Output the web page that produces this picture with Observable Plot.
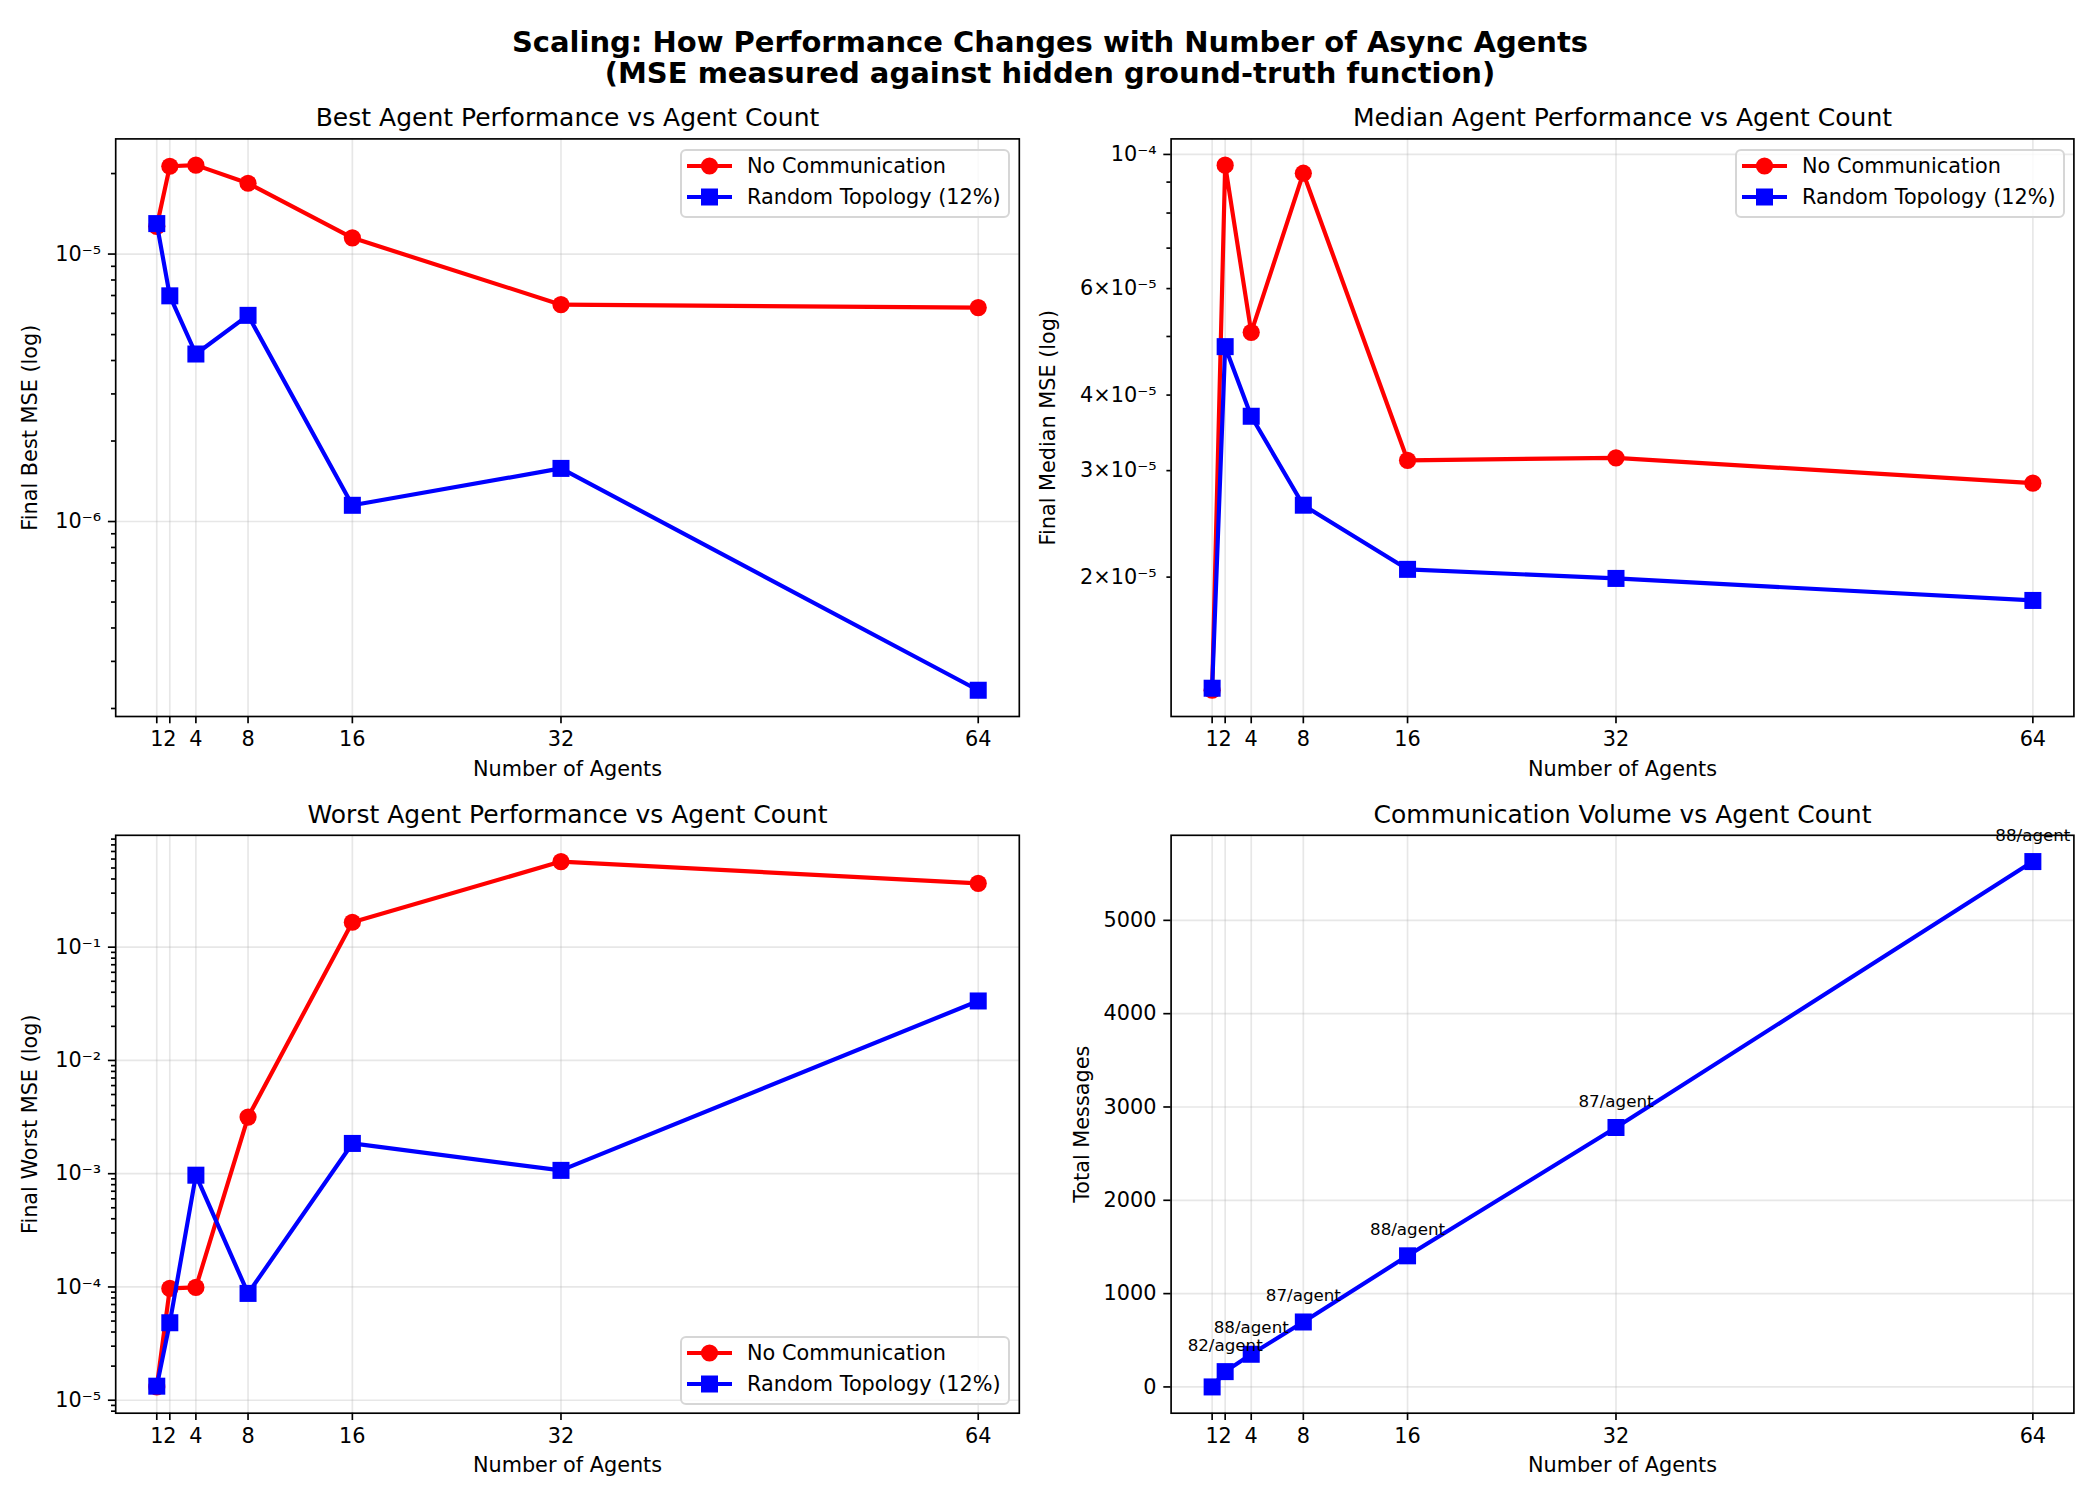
<!DOCTYPE html>
<html><head><meta charset="utf-8">
<script src="https://cdn.jsdelivr.net/npm/d3@7"></script>
<script src="https://cdn.jsdelivr.net/npm/@observablehq/plot@0.6"></script>
<style>
body{margin:0;background:#fff;}
#root{position:relative;width:2100px;height:1500px;background:#fff;font-family:"DejaVu Sans";color:#000;}
.suptitle{position:absolute;left:0;width:2100px;top:27px;text-align:center;font-weight:bold;font-size:29px;line-height:31px;}
.panel{position:absolute;}
.legend{position:absolute;}
</style></head><body><div id="root"><div class="suptitle">Scaling: How Performance Changes with Number of Async Agents<br>(MSE measured against hidden ground-truth function)</div></div>
<script>
// ---------- data ----------
const agents = [1, 2, 4, 8, 16, 32, 64];
const bestNoComm   = [1.27e-5, 2.13e-5, 2.15e-5, 1.84e-5, 1.15e-5, 6.47e-6, 6.31e-6];
const bestRandom   = [1.30e-5, 6.98e-6, 4.23e-6, 5.90e-6, 1.15e-6, 1.58e-6, 2.34e-7];
const medianNoComm = [1.30e-5, 9.60e-5, 5.08e-5, 9.31e-5, 3.12e-5, 3.15e-5, 2.86e-5];
const medianRandom = [1.31e-5, 4.81e-5, 3.69e-5, 2.63e-5, 2.06e-5, 1.99e-5, 1.83e-5];
const worstNoComm  = [1.31e-5, 9.7e-5, 9.9e-5, 3.16e-3, 0.166, 0.57, 0.366];
const worstRandom  = [1.33e-5, 4.83e-5, 9.7e-4, 8.77e-5, 1.85e-3, 1.07e-3, 0.0335];
const totalMessages = [0, 164, 350, 696, 1405, 2780, 5630];
const perAgentLabels = ["", "82/agent", "88/agent", "87/agent", "88/agent", "87/agent", "88/agent"];
const seriesNames = ["No Communication", "Random Topology (12%)"];
const xTicks = [1, 2, 4, 8, 16, 32, 64];
const bestTicks = [1e-6, 1e-5];
const medianTicks = [1e-4];
const medianLabeledMinor = [2e-5, 3e-5, 4e-5, 6e-5];
const worstTicks = [1e-5, 1e-4, 1e-3, 1e-2, 1e-1];
const commTicks = [0, 1000, 2000, 3000, 4000, 5000];
const titles = ["Best Agent Performance vs Agent Count", "Median Agent Performance vs Agent Count",
                "Worst Agent Performance vs Agent Count", "Communication Volume vs Agent Count"];
const yLabels = ["Final Best MSE (log)", "Final Median MSE (log)", "Final Worst MSE (log)", "Total Messages"];
const xLabel = "Number of Agents";

// ---------- helpers ----------
const FS = 20.8, LW = 4.17, SW = 1.67;
const RED = "#ff0000", BLUE = "#0000ff";
function logDomain(...s){const v=s.flat();const lo=Math.log10(d3.min(v)),hi=Math.log10(d3.max(v));const m=(hi-lo)*0.05;return [10**(lo-m),10**(hi+m)];}
function linDomain(v){const lo=d3.min(v),hi=d3.max(v),m=(hi-lo)*0.05;return [lo-m,hi+m];}
const xDomain = linDomain(agents);
const supMap = {"-":"\u207B","0":"\u2070","1":"\u00B9","2":"\u00B2","3":"\u00B3","4":"\u2074","5":"\u2075","6":"\u2076","7":"\u2077","8":"\u2078","9":"\u2079"};
function pow10(e){return "10"+String(e).split("").map(c=>supMap[c]).join("");}
function fmtLog(v){const e=Math.floor(Math.log10(v)+1e-9);const m=Math.round(v/10**e);return m===1?pow10(e):m+"\u00D7"+pow10(e);}
function minorTicks(domain, exclude){const out=[];for(let n=-9;n<=2;n++)for(let k=2;k<=9;k++){const v=k*10**n;if(v>=domain[0]&&v<=domain[1]&&!exclude.some(t=>Math.abs(t-v)/v<1e-6))out.push(v);}return out;}
const gridStyle = {stroke:"#b0b0b0", strokeOpacity:0.3, strokeWidth:SW};

function seriesMarks(ysA, ysB){
  const m = [];
  if (ysA) {
    const A = agents.map((x,i)=>({x, y: ysA[i]}));
    m.push(Plot.line(A,{x:"x",y:"y",stroke:RED,strokeWidth:LW}));
    m.push(Plot.dot(A,{x:"x",y:"y",r:8.6,fill:RED,symbol:"circle"}));
  }
  const B = agents.map((x,i)=>({x, y: ysB[i]}));
  m.push(Plot.line(B,{x:"x",y:"y",stroke:BLUE,strokeWidth:LW}));
  m.push(Plot.dot(B,{x:"x",y:"y",r:9.6,fill:BLUE,symbol:"square"}));
  return m;
}

function makePanel({left, top, width, height, mL, mR, mT, mB, y, yMajor, yMajorFmt, yLabeledMinor = [], yMinor = [], grid, series, title, ylabel, ylabelDx, extra = []}){
  const marks = [
    Plot.gridX(xTicks, gridStyle),
    Plot.gridY(grid, gridStyle),
    ...series,
    ...extra,
    Plot.frame({stroke:"#000", strokeWidth:SW}),
    Plot.axisX({ticks:xTicks, tickSize:7.3, tickPadding:7.3, strokeWidth:SW, fontSize:FS, label:null, tickFormat:d=>String(d)}),
    Plot.axisY({ticks:yMajor, tickSize:7.3, tickPadding:7.3, strokeWidth:SW, fontSize:FS, label:null, tickFormat:yMajorFmt}),
  ];
  if (yLabeledMinor.length) marks.push(Plot.axisY({ticks:yLabeledMinor, tickSize:4.2, tickPadding:10.4, strokeWidth:SW, fontSize:FS, label:null, tickFormat:yMajorFmt}));
  if (yMinor.length) marks.push(Plot.axisY({ticks:yMinor, tickSize:4.2, tickPadding:0, strokeWidth:SW, fontSize:FS, label:null, tickFormat:()=>""}));
  marks.push(Plot.text([title],{text:d=>d, frameAnchor:"top", textAnchor:"middle", dy:-12.5, lineAnchor:"bottom", fontSize:25}));
  marks.push(Plot.text([xLabel],{text:d=>d, frameAnchor:"bottom", textAnchor:"middle", dy:59, lineAnchor:"bottom", fontSize:FS}));
  marks.push(Plot.text([ylabel],{text:d=>d, frameAnchor:"left", textAnchor:"middle", dx:ylabelDx, rotate:-90, lineAnchor:"middle", fontSize:FS}));
  const svg = Plot.plot({
    width, height, marginLeft:mL, marginRight:mR, marginTop:mT, marginBottom:mB,
    style:{fontFamily:"DejaVu Sans", fontSize:FS+"px", color:"#000", background:"transparent", overflow:"visible"},
    x:{type:"linear", domain:xDomain},
    y,
    marks
  });
  const div = document.createElement("div");
  div.className = "panel";
  div.style.left = left+"px"; div.style.top = top+"px"; div.style.width = width+"px"; div.style.height = height+"px";
  div.appendChild(svg);
  document.getElementById("root").appendChild(div);
}

function makeLegend(left, top){
  const w = 328, h = 67;
  const rows = [{name:seriesNames[0], color:RED, sym:"circle", cy:17},{name:seriesNames[1], color:BLUE, sym:"square", cy:48}];
  let s = `<svg width="${w+4}" height="${h+4}" xmlns="http://www.w3.org/2000/svg" style="overflow:visible">`;
  s += `<rect x="1" y="1" width="${w}" height="${h}" rx="5" fill="rgba(255,255,255,0.8)" stroke="#d6d6d6" stroke-width="2"/>`;
  for (const r of rows){
    s += `<line x1="7" x2="52" y1="${r.cy}" y2="${r.cy}" stroke="${r.color}" stroke-width="${LW}"/>`;
    if (r.sym==="circle") s += `<circle cx="29.5" cy="${r.cy}" r="8.6" fill="${r.color}"/>`;
    else s += `<rect x="${29.5-8.5}" y="${r.cy-8.5}" width="17" height="17" fill="${r.color}"/>`;
    s += `<text x="67" y="${r.cy+7}" font-family="DejaVu Sans" font-size="${FS}" fill="#000">${r.name}</text>`;
  }
  s += `</svg>`;
  const div = document.createElement("div");
  div.className = "legend";
  div.style.left = left+"px"; div.style.top = top+"px";
  div.innerHTML = s;
  document.getElementById("root").appendChild(div);
}

// ---------- panels ----------
const bestDom = logDomain(bestNoComm, bestRandom);
makePanel({left:0, top:90, width:1050, height:700, mL:115.2, mR:31.2, mT:48.4, mB:74,
  y:{type:"log", domain:bestDom}, yMajor:bestTicks, yMajorFmt:fmtLog, yMinor:minorTicks(bestDom, []),
  grid:bestTicks, series:seriesMarks(bestNoComm, bestRandom), title:titles[0], ylabel:yLabels[0], ylabelDx:-85});

const medDom = logDomain(medianNoComm, medianRandom);
makePanel({left:1030, top:90, width:1070, height:700, mL:140.6, mR:26.6, mT:48.4, mB:74,
  y:{type:"log", domain:medDom}, yMajor:medianTicks, yMajorFmt:fmtLog, yLabeledMinor:medianLabeledMinor,
  yMinor:minorTicks(medDom, medianLabeledMinor),
  grid:medianTicks, series:seriesMarks(medianNoComm, medianRandom), title:titles[1], ylabel:yLabels[1], ylabelDx:-123});

const worstDom = logDomain(worstNoComm, worstRandom);
makePanel({left:0, top:790, width:1050, height:710, mL:115.2, mR:31.2, mT:44.8, mB:87.3,
  y:{type:"log", domain:worstDom}, yMajor:worstTicks, yMajorFmt:fmtLog, yMinor:minorTicks(worstDom, []),
  grid:worstTicks, series:seriesMarks(worstNoComm, worstRandom), title:titles[2], ylabel:yLabels[2], ylabelDx:-85});

const commDom = linDomain(totalMessages);
const commData = agents.map((x,i)=>({x, y: totalMessages[i], label: perAgentLabels[i]}));
makePanel({left:1030, top:790, width:1070, height:710, mL:140.6, mR:26.6, mT:44.8, mB:87.3,
  y:{type:"linear", domain:commDom}, yMajor:commTicks, yMajorFmt:d3.format("d"),
  grid:commTicks, series:seriesMarks(null, totalMessages), title:titles[3], ylabel:yLabels[3], ylabelDx:-89,
  extra:[Plot.text(commData.filter(d=>d.label), {x:"x", y:"y", text:"label", dy:-20.8, lineAnchor:"bottom", fontSize:16.7, fill:"#000"})]});

makeLegend(680, 149);
makeLegend(1735, 149);
makeLegend(680, 1336);
</script></body></html>
